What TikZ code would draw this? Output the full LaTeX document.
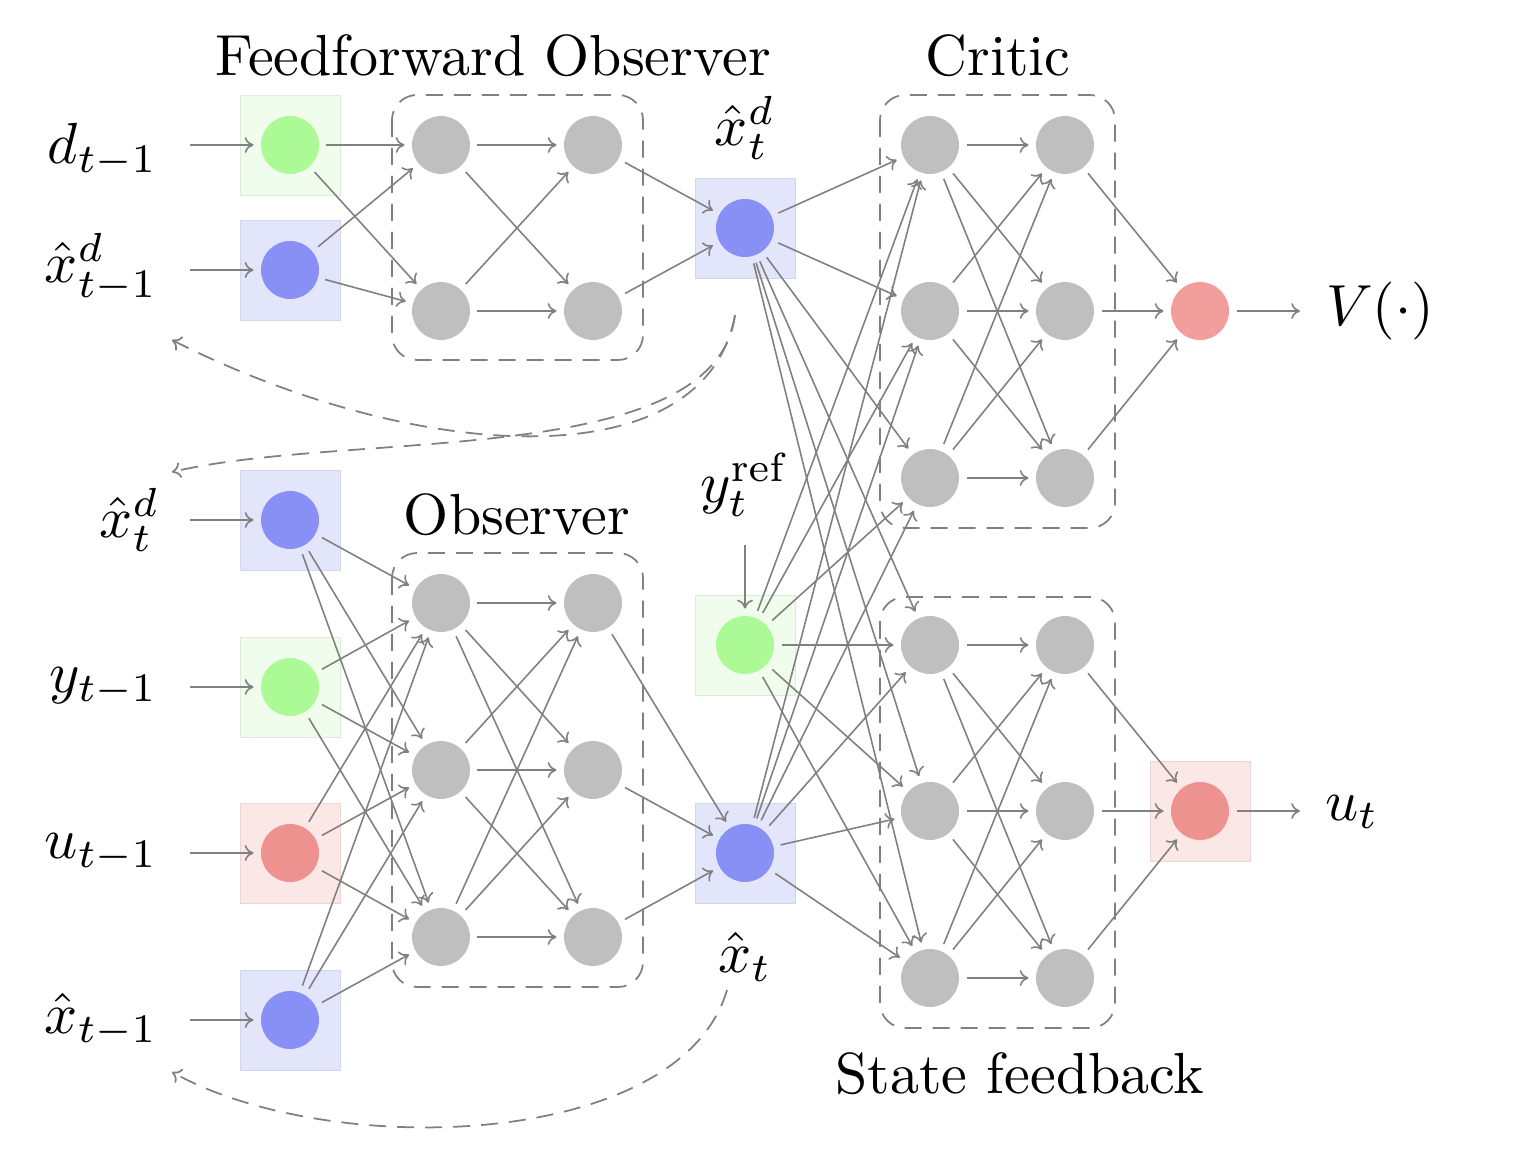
\documentclass[tikz,border=0pt]{standalone}
\usepackage{graphicx}
\usetikzlibrary{arrows.meta}
\definecolor{lgray}{RGB}{128,128,128}
\definecolor{ngray}{RGB}{191,191,191}
\definecolor{ngreen}{RGB}{172,250,150}
\definecolor{nblue}{RGB}{136,143,245}
\definecolor{nred}{RGB}{238,146,143}
\definecolor{nredv}{RGB}{242,158,156}
\definecolor{bgreen}{RGB}{240,252,236}
\definecolor{bblue}{RGB}{227,229,251}
\definecolor{bred}{RGB}{251,231,230}
\newcommand{\bigtx}[1]{\scalebox{3.3}{#1}}
\begin{document}
\begin{tikzpicture}[x=0.02cm,y=-0.02cm,
  neuron/.style={circle,minimum size=1.16cm,inner sep=0pt,outer sep=0.15cm,fill=#1},
  hbox/.style={rectangle,minimum size=2cm,inner sep=0pt,fill=#1,draw=#1!93!black,line width=0.5pt},
  conn/.style={-{Computer Modern Rightarrow[length=5pt,width=9pt]},draw=lgray,line width=0.9pt},
  grp/.style={draw=lgray,dash pattern=on 0.34cm off 0.22cm,line width=1pt,rounded corners=0.5cm},
  fb/.style={draw=lgray,dash pattern=on 0.34cm off 0.22cm,line width=1pt,-{Computer Modern Rightarrow[length=5pt,width=9pt]}},
  lbl/.style={inner sep=0pt}
]
\useasboundingbox (0,0) rectangle (1532,1168);

% ---------- highlight boxes ----------
\node[hbox=bgreen] (bx1) at (290,145) {};
\node[hbox=bblue]  (bx2) at (290,270) {};
\node[hbox=bblue]  (bx3) at (745,228) {};
\node[hbox=bblue]  (bx4) at (290,520) {};
\node[hbox=bgreen] (bx5) at (290,687) {};
\node[hbox=bred]   (bx6) at (290,853) {};
\node[hbox=bblue]  (bx7) at (290,1020) {};
\node[hbox=bgreen] (bx8) at (745,645) {};
\node[hbox=bblue]  (bx9) at (745,853) {};
\node[hbox=bred]   (bx10) at (1200,811) {};

% ---------- group frames ----------
\draw[grp] (392,95) rectangle (643,360);
\draw[grp] (880,95) rectangle (1115,528);
\draw[grp] (392,553) rectangle (643,987);
\draw[grp] (880,597) rectangle (1115,1028);

% ---------- neurons ----------
\node[neuron=ngreen] (ffin1) at (290,145) {};
\node[neuron=nblue]  (ffin2) at (290,270) {};
\node[neuron=ngray] (ffa1) at (441,145) {};
\node[neuron=ngray] (ffa2) at (441,311) {};
\node[neuron=ngray] (ffb1) at (593,145) {};
\node[neuron=ngray] (ffb2) at (593,311) {};
\node[neuron=nblue] (xdt) at (745,228) {};

\node[neuron=nblue]  (obin1) at (290,520) {};
\node[neuron=ngreen] (obin2) at (290,687) {};
\node[neuron=nred]   (obin3) at (290,853) {};
\node[neuron=nblue]  (obin4) at (290,1020) {};
\foreach \k/\y in {1/603,2/770,3/937}{
  \node[neuron=ngray] (oa\k) at (441,\y) {};
  \node[neuron=ngray] (ob\k) at (593,\y) {};
}
\node[neuron=ngreen] (yref) at (745,645) {};
\node[neuron=nblue]  (xt) at (745,853) {};

\foreach \k/\y in {1/145,2/311,3/478}{
  \node[neuron=ngray] (ca\k) at (930,\y) {};
  \node[neuron=ngray] (cb\k) at (1065,\y) {};
}
\foreach \k/\y in {1/645,2/811,3/978}{
  \node[neuron=ngray] (sa\k) at (930,\y) {};
  \node[neuron=ngray] (sb\k) at (1065,\y) {};
}
\node[neuron=nredv] (V) at (1200,311) {};
\node[neuron=nred]  (u) at (1200,811) {};

% ---------- labels ----------
\node[lbl] (tff) at (493,56) {\bigtx{Feedforward Observer}};
\node[lbl] (tcr) at (998,56) {\bigtx{Critic}};
\node[lbl] (tob) at (517,515) {\bigtx{Observer}};
\node[lbl] (tsf) at (1020,1074) {\bigtx{State feedback}};

\node[lbl,anchor=east] (ld)   at (158,150) {\bigtx{$d_{t-1}$}};
\node[lbl,anchor=east] (lxd1) at (158,268) {\bigtx{$\hat{x}^d_{t-1}$}};
\node[lbl,anchor=east] (lxd2) at (160,520) {\bigtx{$\hat{x}^d_t$}};
\node[lbl,anchor=east] (ly)   at (158,687) {\bigtx{$y_{t-1}$}};
\node[lbl,anchor=east] (lu)   at (158,853) {\bigtx{$u_{t-1}$}};
\node[lbl,anchor=east] (lx)   at (158,1020) {\bigtx{$\hat{x}_{t-1}$}};
\node[lbl] (lxdt) at (745,128) {\bigtx{$\hat{x}^d_t$}};
\node[lbl] (lyref) at (745,485) {\bigtx{$y^{\mathrm{ref}}_t$}};
\node[lbl] (lxt) at (745,957) {\bigtx{$\hat{x}_t$}};
\node[lbl] (lV) at (1380,311) {\bigtx{$V(\cdot)$}};
\node[lbl] (lut) at (1352,812) {\bigtx{$u_t$}};

% ---------- free ends ----------
\coordinate (i1) at (190,145);
\coordinate (i2) at (190,270);
\coordinate (i3) at (190,520);
\coordinate (i4) at (190,687);
\coordinate (i5) at (190,853);
\coordinate (i6) at (190,1020);
\coordinate (iy) at (745,545);
\coordinate (oV) at (1300,311);
\coordinate (ou) at (1300,811);
\coordinate (fbs1) at (735,315);
\coordinate (fbe1) at (172,340);
\coordinate (fbe2) at (172,472);
\coordinate (fbs2) at (727,990);
\coordinate (fbe3) at (172,1072);

% ---------- input / output arrows ----------
\draw[conn] (i1) -- (ffin1);
\draw[conn] (i2) -- (ffin2);
\draw[conn] (i3) -- (obin1);
\draw[conn] (i4) -- (obin2);
\draw[conn] (i5) -- (obin3);
\draw[conn] (i6) -- (obin4);
\draw[conn] (iy) -- (yref);
\draw[conn] (V) -- (oV);
\draw[conn] (u) -- (ou);

% ---------- feedforward observer ----------
\foreach \i in {1,2}{\foreach \j in {1,2}{
  \draw[conn] (ffin\i) -- (ffa\j);
  \draw[conn] (ffa\i) -- (ffb\j);
}}
\draw[conn] (ffb1) -- (xdt);
\draw[conn] (ffb2) -- (xdt);

% ---------- observer ----------
\foreach \i in {1,2,3,4}{\foreach \j in {1,2,3}{
  \draw[conn] (obin\i) -- (oa\j);
}}
\foreach \i in {1,2,3}{\foreach \j in {1,2,3}{
  \draw[conn] (oa\i) -- (ob\j);
}}
\foreach \i in {1,2,3}{\draw[conn] (ob\i) -- (xt);}

% ---------- critic & state feedback ----------
\foreach \s in {xdt,yref,xt}{\foreach \j in {1,2,3}{
  \draw[conn] (\s) -- (ca\j);
  \draw[conn] (\s) -- (sa\j);
}}
\foreach \i in {1,2,3}{\foreach \j in {1,2,3}{
  \draw[conn] (ca\i) -- (cb\j);
  \draw[conn] (sa\i) -- (sb\j);
}}
\foreach \i in {1,2,3}{
  \draw[conn] (cb\i) -- (V);
  \draw[conn] (sb\i) -- (u);
}

% ---------- feedback (dashed) ----------
\draw[fb] (fbs1) .. controls (705,480) and (420,465) .. (fbe1);
\draw[fb] (fbs1) .. controls (715,470) and (350,430) .. (fbe2);
\draw[fb] (fbs2) .. controls (680,1150) and (330,1160) .. (fbe3);
\end{tikzpicture}
\end{document}
